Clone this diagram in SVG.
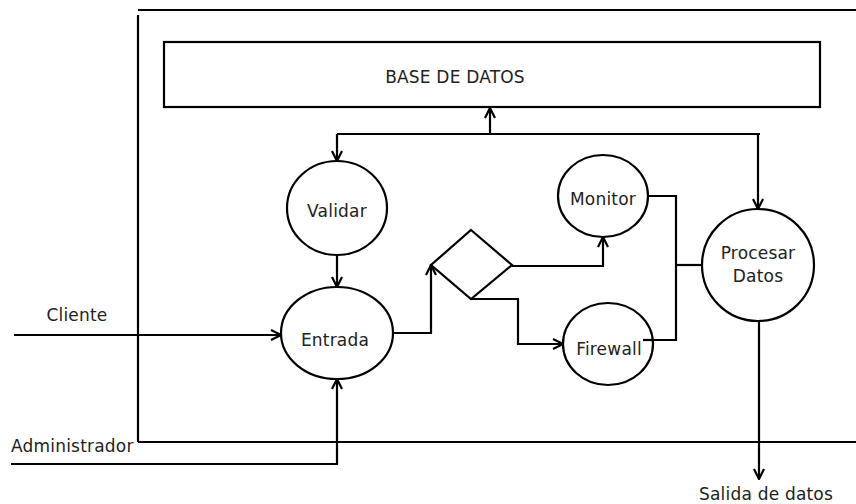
<svg xmlns="http://www.w3.org/2000/svg" width="856" height="504" viewBox="0 0 856 504">
  <defs>
    <style>
      .shape { fill: #ffffff; stroke: #000000; stroke-width: 2.2; }
      .line { fill: none; stroke: #000000; stroke-width: 2.2; }
      .label { font-family: "DejaVu Sans", sans-serif; font-size: 17px; letter-spacing: 0.2px; fill: #222222; text-anchor: middle; }
      .plain { font-family: "DejaVu Sans", sans-serif; font-size: 17px; letter-spacing: 0.2px; fill: #222222; }
    </style>
    <marker id="arrow" viewBox="0 0 12 12" refX="11" refY="6" markerWidth="12" markerHeight="12" markerUnits="userSpaceOnUse" orient="auto">
      <path d="M1,1 L11,6 L1,11" fill="none" stroke="#000000" stroke-width="2.2"/>
    </marker>
  </defs>

  <rect width="856" height="504" fill="#ffffff"/>

  <!-- system boundary -->
  <g id="boundary">
    <line class="line" x1="138" y1="10" x2="856" y2="10"/>
    <line class="line" x1="138" y1="15" x2="138" y2="442"/>
    <line class="line" x1="138" y1="442" x2="856" y2="442"/>
  </g>

  <!-- connectors -->
  <g id="connectors">
    <!-- database bus -->
    <line class="line" x1="337" y1="134" x2="760" y2="134"/>
    <line class="line" x1="490" y1="134" x2="490" y2="108" marker-end="url(#arrow)"/>
    <line class="line" x1="337" y1="134" x2="337" y2="161" marker-end="url(#arrow)"/>
    <line class="line" x1="758" y1="134" x2="758" y2="209" marker-end="url(#arrow)"/>
    <!-- Validar to Entrada -->
    <line class="line" x1="337" y1="255" x2="337" y2="287" marker-end="url(#arrow)"/>
    <!-- Cliente input -->
    <line class="line" x1="14" y1="335" x2="281" y2="335" marker-end="url(#arrow)"/>
    <!-- Administrador input -->
    <polyline class="line" points="11,464 337,464 337,379" marker-end="url(#arrow)"/>
    <!-- Entrada to decision -->
    <polyline class="line" points="393,333 431,333 431,265" marker-end="url(#arrow)"/>
    <!-- decision to Monitor -->
    <polyline class="line" points="512,266 603,266 603,237" marker-end="url(#arrow)"/>
    <!-- decision to Firewall -->
    <polyline class="line" points="471,299 518,299 518,344 563,344" marker-end="url(#arrow)"/>
    <!-- Monitor and Firewall join into Procesar Datos -->
    <polyline class="line" points="648,196 676,196 676,340 643,340"/>
    <line class="line" x1="676" y1="265" x2="702" y2="265"/>
    <!-- output -->
    <line class="line" x1="759" y1="320" x2="759" y2="479" marker-end="url(#arrow)"/>
  </g>

  <g id="base-de-datos">
    <rect class="shape" x="164" y="42" width="656" height="65"/>
    <text class="label" x="455" y="83">BASE DE DATOS</text>
  </g>

  <g id="validar">
    <ellipse class="shape" cx="337" cy="208" rx="50" ry="47"/>
    <text class="label" x="337" y="217">Validar</text>
  </g>

  <g id="entrada">
    <ellipse class="shape" cx="337" cy="333" rx="56" ry="46"/>
    <text class="label" x="335" y="346">Entrada</text>
  </g>

  <g id="decision">
    <polygon class="shape" points="471,230 512,265 471,299 431,265"/>
  </g>

  <g id="monitor">
    <ellipse class="shape" cx="603" cy="196" rx="45" ry="41"/>
    <text class="label" x="603" y="205">Monitor</text>
  </g>

  <g id="firewall">
    <ellipse class="shape" cx="608" cy="344" rx="45" ry="41"/>
    <line class="line" x1="643" y1="340" x2="653" y2="340"/>
    <text class="label" x="609" y="355">Firewall</text>
  </g>

  <g id="procesar-datos">
    <ellipse class="shape" cx="758" cy="265" rx="56" ry="56"/>
    <text class="label" x="758" y="259">Procesar</text>
    <text class="label" x="758" y="282">Datos</text>
  </g>

  <g id="actors">
    <text class="label" x="77" y="321">Cliente</text>
    <text class="plain" x="11" y="452">Administrador</text>
    <text class="label" x="766" y="500">Salida de datos</text>
  </g>
</svg>
